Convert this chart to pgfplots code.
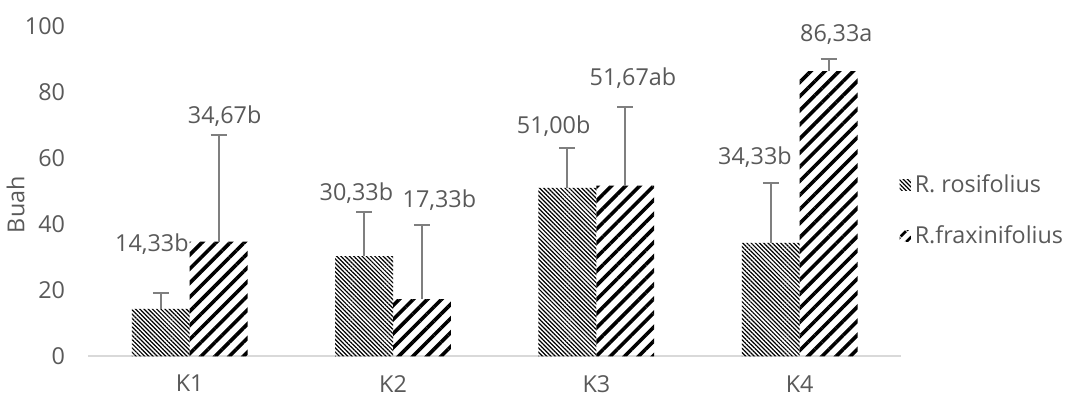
\documentclass[border=0pt]{standalone}
\usepackage{fontspec}
\setmainfont{Open Sans}
\usepackage{pgfplots}
\pgfplotsset{compat=1.18}
\usetikzlibrary{patterns.meta}
\definecolor{txt}{HTML}{595959}
\definecolor{errc}{HTML}{7F7F7F}
\definecolor{axc}{HTML}{D9D9D9}
\begin{document}
\begin{tikzpicture}
\begin{axis}[
  scale only axis,
  width=407.5pt, height=165.5pt,
  ymin=0, ymax=100, xmin=-0.5, xmax=3.5,
  ybar=0pt, bar width=29pt,
  clip=false,
  font=\fontsize{11.7}{14}\selectfont,
  /pgf/number format/assume math mode=true,
  ytick={0,20,...,100},
  xtick={0,1,2,3}, xticklabels={K1,K2,K3,K4},
  tick style={draw=none}, major tick length=0pt,
  axis lines*=left,
  y axis line style={draw=none},
  x axis line style={draw=axc, line width=0.8pt},
  ticklabel style={text=txt},
  yticklabel style={xshift=-8pt},
  xticklabel style={yshift=-6pt},
  ylabel={Buah},
  ylabel style={at={(rel axis cs:-0.089,0.459)}, anchor=center, text=txt},
  legend style={draw=none, fill=none, at={(rel axis cs:0.99,0.575)}, anchor=north west,
    row sep=11pt, text=txt, font=\fontsize{11.7}{14}\selectfont,
    /tikz/every even column/.append style={column sep=4pt}},
  legend cell align=left,
]
\addplot[draw=none, pattern={Lines[angle=-45,distance=1.5pt,line width=0.6pt]}, pattern color=black,
  legend image code/.code={\path[draw=none, pattern={Lines[angle=-45,distance=1.5pt,line width=0.6pt]}, pattern color=black] (0pt,-2.8pt) rectangle (5.6pt,2.8pt);},
  error bars/.cd, y dir=plus, y explicit,
  error bar style={line width=1pt, draw=errc, solid},
  error mark options={rotate=90, mark size=4pt, line width=1pt, draw=errc}]
  coordinates {(0,14.33) +- (0,4.8) (1,30.33) +- (0,13.2) (2,51.00) +- (0,12.1) (3,34.33) +- (0,18.0)};
\addlegendentry{R. rosifolius}
\addplot[draw=none, pattern={Lines[angle=45,distance=5pt,line width=1.8pt]}, pattern color=black,
  legend image code/.code={\path[draw=none, pattern={Lines[angle=45,distance=4pt,line width=1.5pt]}, pattern color=black] (0pt,-2.8pt) rectangle (5.6pt,2.8pt);},
  error bars/.cd, y dir=plus, y explicit,
  error bar style={line width=1pt, draw=errc, solid},
  error mark options={rotate=90, mark size=4pt, line width=1pt, draw=errc}]
  coordinates {(0,34.67) +- (0,32.4) (1,17.33) +- (0,22.3) (2,51.67) +- (0,23.8) (3,86.33) +- (0,3.7)};
\addlegendentry{R.fraxinifolius}
\node[text=txt] at (axis cs:-0.186,33.8) {14,33b};
\node[text=txt] at (axis cs:0.172,72.8) {34,67b};
\node[text=txt] at (axis cs:0.82,49.5) {30,33b};
\node[text=txt] at (axis cs:1.228,47.4) {17,33b};
\node[text=txt] at (axis cs:1.79,69.8) {51,00b};
\node[text=txt] at (axis cs:2.18,84.3) {51,67ab};
\node[text=txt] at (axis cs:2.78,60.4) {34,33b};
\node[text=txt] at (axis cs:3.18,97.3) {86,33a};
\path (rel axis cs:-0.1055,-0.139) rectangle (rel axis cs:1.2172,1.0785);
\end{axis}
\end{tikzpicture}
\end{document}
